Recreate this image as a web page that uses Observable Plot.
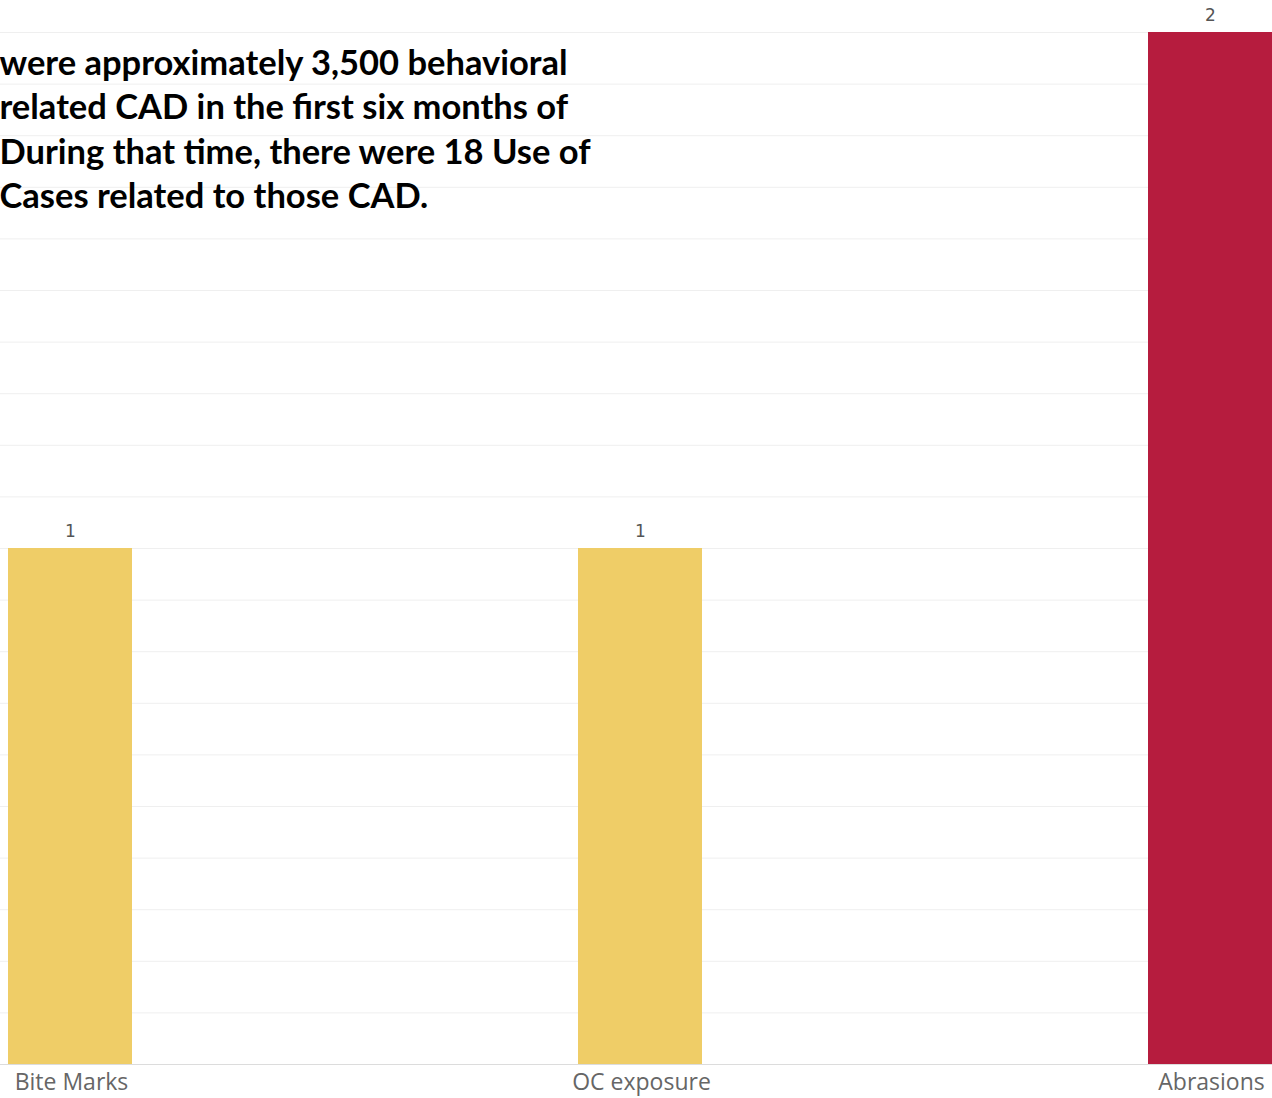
<!DOCTYPE html>
<html>
<head>
<meta charset="utf-8">
<script src="https://cdn.jsdelivr.net/npm/d3@7"></script>
<script src="https://cdn.jsdelivr.net/npm/@observablehq/plot@0.6"></script>
<style>
  html, body { margin: 0; padding: 0; background: #fff; overflow: hidden; }
  #chart svg { display: block; overflow: hidden; }
</style>
</head>
<body>
<div id="chart"></div>
<script>
const categories = ["Bite Marks", "OC exposure", "Abrasions"];
const counts = [1, 1, 2];
const barColors = ["#EFCD67", "#EFCD67", "#B61C3E"];
const noteText = "were approximately 3,500 behavioral\nrelated CAD in the first six months of\nDuring that time, there were 18 Use of\nCases related to those CAD.";

const data = categories.map((c, i) => ({category: c, count: counts[i], color: barColors[i]}));

const chart = Plot.plot({
  width: 1272,
  height: 1098,
  marginTop: 32,
  marginBottom: 34,
  marginLeft: 0,
  marginRight: 0,
  style: {background: "#fff", overflow: "hidden"},
  x: {domain: categories, range: [-215, 1495], paddingInner: 0.7825, paddingOuter: 0.39125, axis: null, label: null},
  y: {domain: [0, 2], axis: null},
  marks: [
    Plot.gridY({ticks: 20, stroke: "#efefef", strokeOpacity: 1}),
    Plot.barY(data, {x: "category", y: "count", fill: "color"}),
    Plot.ruleY([0], {stroke: "#dcdcdc"}),
    Plot.text(data, {x: "category", y: "count", text: d => String(d.count), dy: -17, fontSize: 17, fill: "#555", fontFamily: "DejaVu Sans"}),
    Plot.axisX({tickSize: 0, tickPadding: 9, fontSize: 23, fill: "#666", fontFamily: "Open Sans", label: null, dx: 1}),
    Plot.text([noteText], {frameAnchor: "top-left", textAnchor: "start", lineAnchor: "top", lineHeight: 1.285, dy: 11, dx: -1, fontSize: 34.5, fontWeight: "bold", fontFamily: "Lato", fill: "#000"})
  ]
});
document.getElementById("chart").appendChild(chart);
</script>
</body>
</html>
